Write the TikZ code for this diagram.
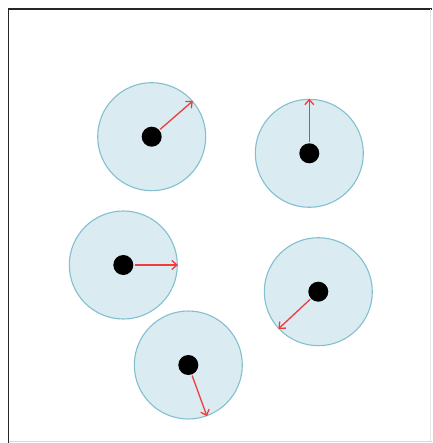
\documentclass[tikz,border=0pt]{standalone}
\usetikzlibrary{arrows.meta}
\definecolor{discfill}{RGB}{218,235,242}
\definecolor{discline}{RGB}{130,192,208}
\definecolor{vecred}{RGB}{240,60,60}
\tikzset{
  disc/.style={circle, draw=discline, fill=discfill, line width=1.1pt, minimum size=108pt, inner sep=0pt},
  dot/.style={circle, fill=black, minimum size=20pt, inner sep=0pt},
  vec/.style={color=vecred, line width=1.3pt, -{Straight Barb[length=5pt,width=9pt]}, shorten <=1pt},
}
\begin{document}
\begin{tikzpicture}[x=1pt,y=-1pt]
\useasboundingbox (0,0) rectangle (432,443);
\fill[white] (0,0) rectangle (432,443);
% frame
\draw[black!85, line width=1.6pt] (8.5,443) -- (8.5,9) -- (432,9);
\draw[black!15, line width=0.8pt] (8.5,441) -- (432,441);
\draw[black!10, line width=0.6pt] (430.5,9) -- (430.5,441);
% discs
\node[disc] (c1) at (151.7,136.7) {};
\node[disc] (c2) at (309.3,153.3) {};
\node[disc] (c3) at (123.3,265) {};
\node[disc] (c4) at (318.3,291.7) {};
\node[disc] (c5) at (188.3,365) {};
% centres
\node[dot] (d1) at (c1.center) {};
\node[dot] (d2) at (c2.center) {};
\node[dot] (d3) at (c3.center) {};
\node[dot] (d4) at (c4.center) {};
\node[dot] (d5) at (c5.center) {};
% vectors
\draw[vec] (d1) -- (c1.41);
\draw[vec] (d2) -- (c2.90);
\draw[vec] (d3) -- (c3.0);
\draw[vec] (d4) -- (c4.223);
\draw[vec] (d5) -- (c5.290);
\end{tikzpicture}
\end{document}
